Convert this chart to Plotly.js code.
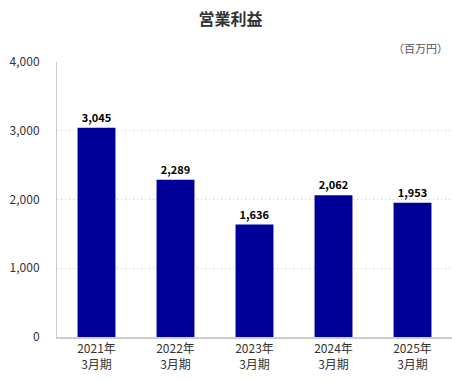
<!DOCTYPE html>
<html><head><meta charset="utf-8">
<script src="https://cdn.plot.ly/plotly-3.0.1.min.js"></script>
<style>html,body{margin:0;padding:0;background:#fff}#chart{width:452px;height:382px}</style>
</head><body><div id="chart"></div>
<script>
const categories = ["2021年<br>3月期","2022年<br>3月期","2023年<br>3月期","2024年<br>3月期","2025年<br>3月期"];
const values = [3045, 2289, 1636, 2062, 1953];
const yTicks = [0, 1000, 2000, 3000, 4000];
const font = '"Noto Sans CJK JP", "Noto Sans", sans-serif';

const trace = {
  type: 'bar', x: categories, y: values,
  marker: {color: '#000099'},
  text: values.map(v => '<b>' + v.toLocaleString('en-US') + '</b>'),
  textposition: 'outside', cliponaxis: false,
  textfont: {family: font, size: 11, color: '#000'},
  hoverinfo: 'none'
};
const layout = {
  width: 452, height: 382,
  margin: {l: 57, r: 0, t: 62, b: 45},
  paper_bgcolor: '#fff', plot_bgcolor: '#fff',
  bargap: 0.52,
  showlegend: false,
  font: {family: font, color: '#333', size: 12},
  title: {text: '<b>営業利益</b>', x: 0.51, xanchor: 'center', y: 0.95, yanchor: 'middle', font: {family: font, size: 16, color: '#333'}},
  xaxis: {
    showline: true, linecolor: '#ccc', linewidth: 1.5, showgrid: false, zeroline: false,
    tickfont: {family: font, size: 12, color: '#333'}, ticks: '', fixedrange: true
  },
  yaxis: {
    range: [0, 4000], tickvals: yTicks, ticktext: yTicks.map(v => v.toLocaleString('en-US')),
    showline: true, linecolor: '#ccc', linewidth: 1,
    showgrid: true, gridcolor: '#c8c8c8', griddash: '1px,3px', gridwidth: 1,
    zeroline: false, ticks: '', ticklabelstandoff: 14,
    tickfont: {family: font, size: 12, color: '#333'}, fixedrange: true
  },
  annotations: [{
    text: '（百万円）', xref: 'paper', yref: 'paper', x: 0.995, y: 1.05,
    xanchor: 'right', yanchor: 'middle', showarrow: false,
    font: {family: font, size: 11, color: '#555'}
  }]
};
Plotly.newPlot('chart', [trace], layout, {displayModeBar: false, staticPlot: true});
</script></body></html>
